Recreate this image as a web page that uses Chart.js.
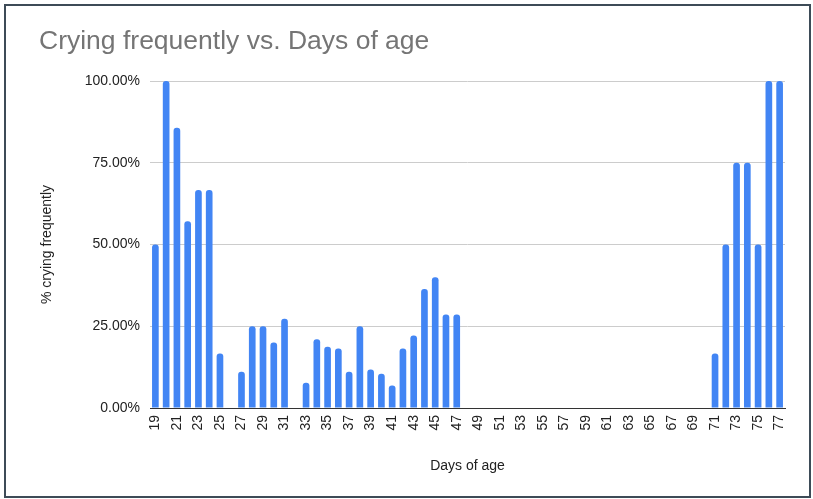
<!DOCTYPE html>
<html>
<head>
<meta charset="utf-8">
<script src="https://cdn.jsdelivr.net/npm/chart.js@4"></script>
<style>
  html, body { margin: 0; padding: 0; background: #ffffff; }
  #wrap { position: relative; width: 813px; height: 499px; }
  canvas { display: block; }
</style>
</head>
<body>
<div id="wrap"><canvas id="c" width="813" height="499"></canvas></div>
<script>
const chartTitle = "Crying frequently vs. Days of age";
const xAxisTitle = "Days of age";
const yAxisTitle = "% crying frequently";

const days = [19, 20, 21, 22, 23, 24, 25, 26, 27, 28, 29, 30, 31, 32, 33, 34, 35, 36, 37, 38,
              39, 40, 41, 42, 43, 44, 45, 46, 47, 48, 49, 50, 51, 52, 53, 54, 55, 56, 57, 58,
              59, 60, 61, 62, 63, 64, 65, 66, 67, 68, 69, 70, 71, 72, 73, 74, 75, 76, 77];

const pctCrying = [50, 100, 85.7, 57.1, 66.7, 66.7, 16.7, 0, 11.1, 25, 25, 20, 27.3, 0, 7.7, 21, 18.75, 18.2, 11.1, 25,
                   11.8, 10.5, 6.9, 18.2, 22.2, 36.4, 40, 28.6, 28.6, 0, 0, 0, 0, 0, 0, 0, 0, 0, 0, 0,
                   0, 0, 0, 0, 0, 0, 0, 0, 0, 0, 0, 0, 16.7, 50, 75, 75, 50, 100, 100];

const yTicks = [0, 25, 50, 75, 100];

const frame = {
  id: 'frame',
  afterDraw(chart) {
    const ctx = chart.ctx;
    ctx.save();
    ctx.strokeStyle = '#3d4b57';
    ctx.lineWidth = 2;
    ctx.strokeRect(5, 5, 805, 492);
    ctx.restore();
  }
};

const FONT = "'Liberation Sans', Arial, sans-serif";

new Chart(document.getElementById('c'), {
  type: 'bar',
  data: {
    labels: days,
    datasets: [{
      label: yAxisTitle,
      data: pctCrying,
      backgroundColor: '#4285f4',
      borderWidth: 0,
      borderRadius: { topLeft: 3, topRight: 3, bottomLeft: 0, bottomRight: 0 },
      borderSkipped: false,
      barPercentage: 0.62,
      categoryPercentage: 1.0
    }]
  },
  options: {
    responsive: false,
    animation: false,
    devicePixelRatio: 1,
    layout: { padding: { left: 39, right: 28, top: 8, bottom: 0 } },
    plugins: {
      legend: { display: false },
      tooltip: { enabled: false },
      title: {
        display: true,
        text: chartTitle,
        align: 'start',
        color: '#757575',
        font: { family: FONT, size: 26.5, weight: 'normal' },
        padding: { top: 18, bottom: 23.2 }
      }
    },
    scales: {
      x: {
        type: 'category',
        offset: true,
        grid: { display: false, drawTicks: false },
        border: { display: true, color: '#333333', width: 1 },
        ticks: {
          autoSkip: false,
          minRotation: 90,
          maxRotation: 90,
          padding: 7,
          color: '#222222',
          font: { family: FONT, size: 14 },
          callback: function(value, index) {
            return index % 2 === 0 ? this.getLabelForValue(value) : '';
          }
        },
        title: {
          display: true,
          text: xAxisTitle,
          color: '#222222',
          font: { family: FONT, size: 14 },
          padding: { top: 0, bottom: 24 }
        },
        afterFit(scale) { scale.height = 91; }
      },
      y: {
        min: 0,
        max: 100,
        afterBuildTicks(scale) { scale.ticks = yTicks.map(v => ({ value: v })); },
        grid: { color: '#cccccc', drawTicks: false, lineWidth: 1 },
        border: { display: false },
        ticks: {
          padding: 10,
          color: '#222222',
          font: { family: FONT, size: 14 },
          callback: v => Number(v).toFixed(2) + '%'
        },
        title: {
          display: true,
          text: yAxisTitle,
          color: '#222222',
          font: { family: FONT, size: 14 },
          padding: { top: 0, bottom: 0 }
        },
        afterFit(scale) { scale.width = 111; }
      }
    }
  },
  plugins: [frame]
});
</script>
</body>
</html>
